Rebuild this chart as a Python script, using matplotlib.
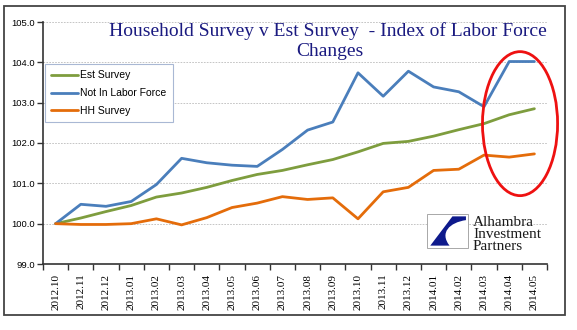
import numpy as np
import matplotlib
matplotlib.use('Agg')
import matplotlib.pyplot as plt
from matplotlib.patches import Ellipse, Rectangle
from matplotlib.path import Path
from matplotlib.patches import PathPatch

months = ['2012.10', '2012.11', '2012.12', '2013.01', '2013.02', '2013.03', '2013.04',
          '2013.05', '2013.06', '2013.07', '2013.08', '2013.09', '2013.10', '2013.11',
          '2013.12', '2014.01', '2014.02', '2014.03', '2014.04', '2014.05']

est_survey = [100.00, 100.14, 100.30, 100.45, 100.66, 100.76, 100.90, 101.07, 101.22, 101.32,
              101.46, 101.59, 101.78, 101.99, 102.04, 102.17, 102.33, 102.48, 102.70, 102.85]

not_in_lf = [100.00, 100.48, 100.43, 100.55, 100.97, 101.62, 101.51, 101.45, 101.42, 101.84,
             102.32, 102.52, 103.74, 103.16, 103.78, 103.39, 103.27, 102.90, 104.02, 104.02]

hh_survey = [100.00, 99.98, 99.98, 100.00, 100.12, 99.97, 100.15, 100.40, 100.51, 100.67,
             100.60, 100.64, 100.12, 100.79, 100.90, 101.32, 101.35, 101.70, 101.65, 101.73]

W, H = 577, 330
fig = plt.figure(figsize=(W / 100, H / 100), dpi=100)
fig.patch.set_facecolor('white')

# outer frame
fig.add_artist(Rectangle((4 / W, 1 - 315 / H), 561 / W, 309 / H, transform=fig.transFigure,
                         fill=False, edgecolor='#444444', linewidth=1.3))

ax = fig.add_axes([43 / W, 1 - 264 / H, 504 / W, 242 / H])

x = np.arange(len(months))
ax.plot(x, est_survey, color='#7E9D3E', linewidth=2.0, label='Est Survey', solid_capstyle='round')
ax.plot(x, not_in_lf, color='#4A7EBB', linewidth=2.0, label='Not In Labor Force', solid_capstyle='round')
ax.plot(x, hh_survey, color='#E46C0A', linewidth=2.0, label='HH Survey', solid_capstyle='round')

ax.set_xlim(-0.5, len(months) - 0.5)
ax.set_ylim(99, 105)
ax.set_yticks(np.arange(99, 105.1, 1))
ax.set_yticklabels(['%.1f' % v for v in np.arange(99, 105.1, 1)], fontsize=6.8,
                   family='Liberation Sans')
ax.set_xticks(x)
ax.set_xticklabels(months, rotation=90, fontsize=8, family='Liberation Serif')
ax.set_xticks(np.arange(-0.5, len(months), 1), minor=True)
ax.tick_params(axis='x', which='major', length=0, pad=7)
ax.tick_params(axis='x', which='minor', length=4, color='#333333', width=1)
ax.tick_params(axis='y', length=4, color='#333333', width=1, pad=2)

for s in ['top', 'right']:
    ax.spines[s].set_visible(False)
for s in ['left', 'bottom']:
    ax.spines[s].set_color('#333333')
    ax.spines[s].set_linewidth(1.2)

for v in range(100, 106):
    ax.axhline(v, color='#BBBBBB', linestyle=(0, (2, 1.5)), linewidth=0.6, zorder=0)

leg = ax.legend(loc='upper left', bbox_to_anchor=(0.004, 0.826), borderaxespad=0,
                prop={'family': 'Liberation Sans', 'size': 7.5},
                handlelength=2.6, handletextpad=0.2, labelspacing=0.75,
                borderpad=0.6, fancybox=False, framealpha=1)
leg.get_frame().set_edgecolor('#A9B8D4')
leg.get_frame().set_linewidth(0.8)

fig.text(328 / W, 1 - 36 / H, 'Household Survey v Est Survey  - Index of Labor Force',
         fontsize=14, family='Liberation Serif', color='#1A1A80', ha='center', va='baseline')
fig.text(330 / W, 1 - 56 / H, 'Changes',
         fontsize=14, family='Liberation Serif', color='#1A1A80', ha='center', va='baseline')

# red ring around the last two months
ax.add_patch(Ellipse((18.43, 102.48), 2.98, 3.57, fill=False, edgecolor='#EE1111',
                     linewidth=2.0, clip_on=False, zorder=5))

# company logo
lx0, ly0, lw, lh = 427 / W, 1 - 248 / H, 41 / W, 34 / H
fig.add_artist(Rectangle((lx0, ly0), lw, lh, transform=fig.transFigure,
                         facecolor='white', edgecolor='#9A9A9A', linewidth=0.6))
verts = [(0.08, 0.07), (0.62, 0.93), (0.95, 0.93), (0.95, 0.82),
         (0.55, 0.75), (0.30, 0.45), (0.55, 0.07), (0.08, 0.07)]
codes = [Path.MOVETO, Path.LINETO, Path.LINETO, Path.LINETO,
         Path.CURVE4, Path.CURVE4, Path.CURVE4, Path.CLOSEPOLY]
verts = [(lx0 + vx * lw, ly0 + vy * lh) for vx, vy in verts]
fig.add_artist(PathPatch(Path(verts, codes), transform=fig.transFigure,
                         facecolor='#0E1A8C', edgecolor='none'))
for i, word in enumerate(['Alhambra', 'Investment', 'Partners']):
    fig.text(473 / W, 1 - (226 + i * 12) / H, word, fontsize=11, family='Liberation Serif',
             color='#1A1A1A', ha='left', va='baseline')

fig.savefig('out.png', dpi=100)
